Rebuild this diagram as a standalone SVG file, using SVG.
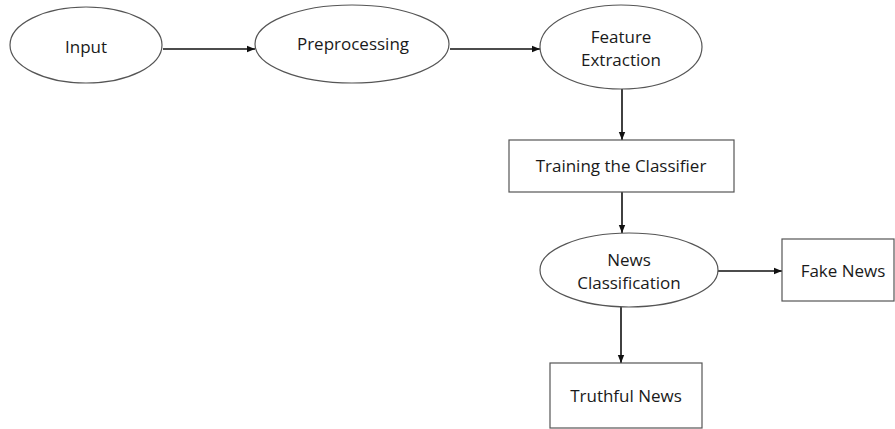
<svg xmlns="http://www.w3.org/2000/svg" width="895" height="429" viewBox="0 0 895 429">
<style>
.shape{fill:#fff;stroke:#555;stroke-width:1.2}
.t{font-family:"Open Sans","Liberation Sans",sans-serif;font-size:17px;fill:#1a1a1a;text-anchor:middle;dominant-baseline:central}
.c{stroke:#111;stroke-width:1.6;fill:none;marker-end:url(#ah)}
</style>
<defs>
<marker id="ah" viewBox="0 0 10 10" refX="10" refY="5" markerWidth="5" markerHeight="5" orient="auto" markerUnits="strokeWidth">
<path d="M0,1 L10,5 L0,9 z" fill="#111"/>
</marker>
</defs>
<rect width="895" height="429" fill="#fff"/>
<g id="connectors">
<line class="c" x1="163" y1="49" x2="255" y2="49"/>
<line class="c" x1="450" y1="49" x2="540" y2="49"/>
<line class="c" x1="622" y1="89" x2="622" y2="140"/>
<line class="c" x1="622" y1="192" x2="622" y2="233"/>
<line class="c" x1="718" y1="271" x2="782" y2="271"/>
<line class="c" x1="621" y1="307" x2="621" y2="363"/>
</g>
<g id="input"><ellipse class="shape" cx="86" cy="45" rx="76" ry="38"/><text class="t" x="86" y="46">Input</text></g>
<g id="preprocessing"><ellipse class="shape" cx="352" cy="44" rx="97" ry="39"/><text class="t" x="353" y="43">Preprocessing</text></g>
<g id="feature"><ellipse class="shape" cx="621" cy="47" rx="81" ry="42"/><text class="t" x="621" y="36">Feature</text><text class="t" x="621" y="59">Extraction</text></g>
<g id="training"><rect class="shape" x="509" y="140" width="225" height="52"/><text class="t" x="621" y="165">Training the Classifier</text></g>
<g id="newsclass"><ellipse class="shape" cx="629" cy="270" rx="89" ry="37"/><text class="t" x="629" y="259">News</text><text class="t" x="629" y="282">Classification</text></g>
<g id="fake"><rect class="shape" x="782" y="239" width="112" height="62"/><text class="t" x="843" y="270">Fake News</text></g>
<g id="truthful"><rect class="shape" x="550" y="363" width="152" height="65"/><text class="t" x="626" y="395">Truthful News</text></g>
</svg>
